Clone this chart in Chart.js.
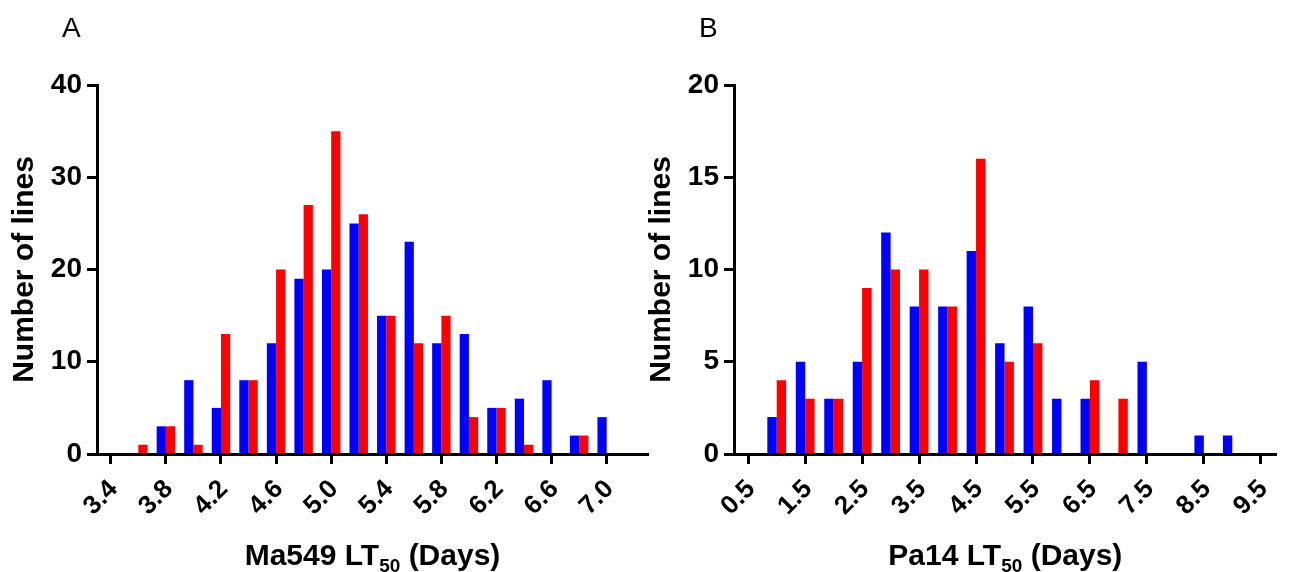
<!DOCTYPE html>
<html>
<head>
<meta charset="utf-8">
<script src="https://cdn.jsdelivr.net/npm/chart.js@4.4.0/dist/chart.umd.min.js"></script>
<style>
  body { margin: 0; background: #fff; }
  canvas { position: absolute; top: 0; }
  #chartA { left: 0; }
  #chartB { left: 637px; }
</style>
</head>
<body>
<canvas id="chartA" width="650" height="572"></canvas>
<canvas id="chartB" width="656" height="572"></canvas>
<script>
// Panel A: Ma549 LT50 histogram (bin centres, days)
const binsA = [3.6, 3.8, 4.0, 4.2, 4.4, 4.6, 4.8, 5.0, 5.2, 5.4, 5.6, 5.8, 6.0, 6.2, 6.4, 6.6, 6.8, 7.0];
const blueA = [0, 3, 8, 5, 8, 12, 19, 20, 25, 15, 23, 12, 13, 5, 6, 8, 2, 4];
const redA = [1, 3, 1, 13, 8, 20, 27, 35, 26, 15, 12, 15, 4, 5, 1, 0, 2, 0];
const xTicksA = ["3.4", "3.8", "4.2", "4.6", "5.0", "5.4", "5.8", "6.2", "6.6", "7.0"];

// Panel B: Pa14 LT50 histogram
const binsB = [1.0, 1.5, 2.0, 2.5, 3.0, 3.5, 4.0, 4.5, 5.0, 5.5, 6.0, 6.5, 7.0, 7.5, 8.0, 8.5, 9.0];
const blueB = [2, 5, 3, 5, 12, 8, 8, 11, 6, 8, 3, 3, 0, 5, 0, 1, 1];
const redB = [4, 3, 3, 9, 10, 10, 8, 16, 5, 6, 0, 4, 3, 0, 0, 0, 0];
const xTicksB = ["0.5", "1.5", "2.5", "3.5", "4.5", "5.5", "6.5", "7.5", "8.5", "9.5"];

const FONT = '"Liberation Sans", Arial, sans-serif';

// draws the panel letter and the x title (with the subscript 50)
const panelText = {
  id: "panelText",
  afterDraw(chart, args, opts) {
    const { ctx, chartArea } = chart;
    ctx.save();
    ctx.fillStyle = "#000";
    ctx.textBaseline = "alphabetic";
    ctx.textAlign = "left";
    ctx.font = "28px " + FONT;
    ctx.fillText(opts.letter, 62, 37);

    const big = "bold 30px " + FONT;
    const small = "bold 19px " + FONT;
    ctx.font = big;
    const w1 = ctx.measureText(opts.pre).width;
    const w3 = ctx.measureText(opts.post).width;
    ctx.font = small;
    const w2 = ctx.measureText(opts.sub).width;
    let x = (chartArea.left + chartArea.right) / 2 - (w1 + w2 + w3) / 2;
    const y = 565;
    ctx.font = big;
    ctx.fillText(opts.pre, x, y);
    x += w1;
    ctx.font = small;
    ctx.fillText(opts.sub, x, y + 7);
    x += w2;
    ctx.font = big;
    ctx.fillText(opts.post, x, y);
    ctx.restore();
  },
};

function makeChart(id, bins, blue, red, tickLabels, xMin, xMax, yMax, yStep, catPct, rightPad, text) {
  const ctx = document.getElementById(id);
  return new Chart(ctx, {
    type: "bar",
    data: {
      datasets: [
        {
          label: "blue",
          data: bins.map((x, i) => ({ x: x, y: blue[i] })),
          backgroundColor: "#0000FF",
          borderWidth: 0,
        },
        {
          label: "red",
          data: bins.map((x, i) => ({ x: x, y: red[i] })),
          backgroundColor: "#FF0000",
          borderWidth: 0,
        },
      ],
    },
    options: {
      responsive: false,
      animation: false,
      devicePixelRatio: 1,
      categoryPercentage: catPct,
      barPercentage: 1.0,
      layout: { padding: { left: 0, right: rightPad, top: 85, bottom: 0 } },
      plugins: {
        legend: { display: false },
        tooltip: { enabled: false },
        panelText: text,
      },
      scales: {
        x: {
          type: "linear",
          min: xMin,
          max: xMax,
          offset: false,
          grid: {
            offset: false,
            drawOnChartArea: false,
            drawTicks: true,
            tickLength: 10,
            tickWidth: 3,
            tickColor: "#000",
          },
          border: { display: true, color: "#000", width: 3 },
          afterBuildTicks: (scale) => {
            scale.ticks = tickLabels.map((t) => ({ value: parseFloat(t) }));
          },
          afterFit: (scale) => {
            scale.height = 118;
          },
          ticks: {
            autoSkip: false,
            minRotation: 45,
            maxRotation: 45,
            padding: 10,
            labelOffset: 3,
            color: "#000",
            font: { family: FONT, size: 26, weight: "bold" },
            callback: (v, i) => tickLabels[i],
          },
        },
        y: {
          min: 0,
          max: yMax,
          grid: {
            drawOnChartArea: false,
            drawTicks: true,
            tickLength: 10,
            tickWidth: 3,
            tickColor: "#000",
          },
          border: { display: true, color: "#000", width: 3 },
          afterFit: (scale) => {
            scale.width = 97;
          },
          title: {
            display: true,
            text: "Number of lines",
            color: "#000",
            padding: { top: 7, bottom: 0 },
            font: { family: FONT, size: 30, weight: "bold" },
          },
          ticks: {
            stepSize: yStep,
            padding: 5,
            color: "#000",
            font: { family: FONT, size: 28, weight: "bold" },
          },
        },
      },
    },
    plugins: [panelText],
  });
}

makeChart("chartA", binsA, blueA, redA, xTicksA, 3.3, 7.3, 40, 10, 0.67, 2,
  { letter: "A", pre: "Ma549 LT", sub: "50", post: " (Days)" });
makeChart("chartB", binsB, blueB, redB, xTicksB, 0.25, 9.78, 20, 5, 0.66, 6,
  { letter: "B", pre: "Pa14 LT", sub: "50", post: " (Days)" });
</script>
</body>
</html>
